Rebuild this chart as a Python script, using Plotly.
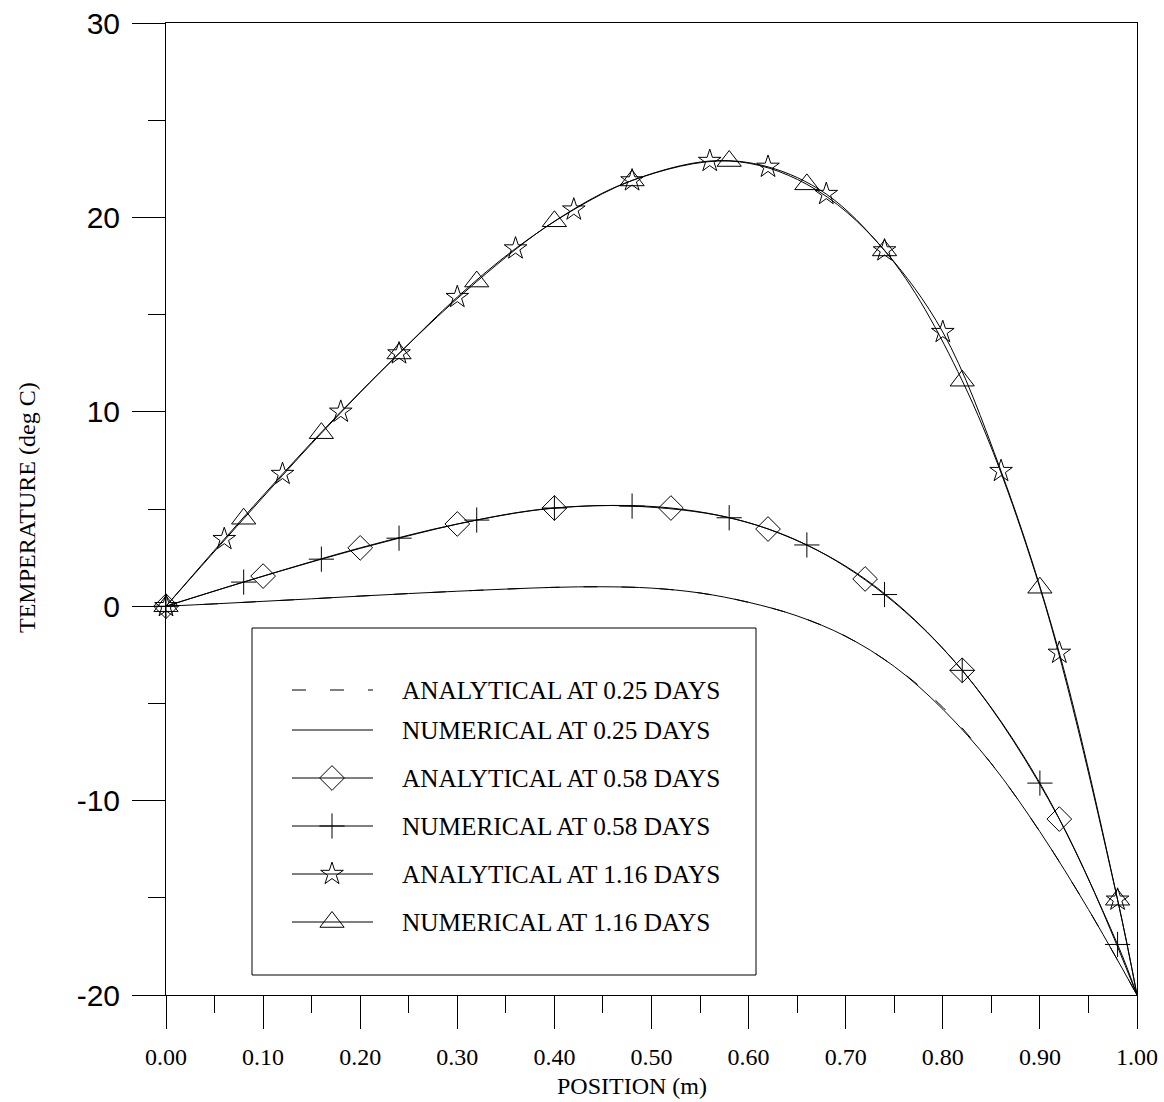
import plotly.graph_objects as go

# ---- temperature profiles along the bar (position in m, temperature in deg C) ----
# 0.25 days: analytical and numerical solutions (no symbols)
x_025 = [0.0, 0.05, 0.10, 0.15, 0.20, 0.25, 0.30, 0.35, 0.40, 0.45, 0.50,
         0.55, 0.60, 0.65, 0.70, 0.75, 0.80, 0.85, 0.90, 0.95, 1.00]
t_025_analytical = [0.0, 0.12, 0.25, 0.38, 0.52, 0.65, 0.77, 0.88, 0.97, 1.0, 0.93,
                    0.68, 0.2, -0.5, -1.55, -3.1, -5.2, -8.1, -11.6, -15.6, -20.0]
t_025_numerical = [0.0, 0.12, 0.25, 0.38, 0.52, 0.65, 0.77, 0.88, 0.97, 1.0, 0.93,
                   0.68, 0.2, -0.5, -1.55, -3.1, -5.3, -8.1, -11.6, -15.6, -20.0]

# 0.58 days
x_058_analytical = [0.0, 0.10, 0.20, 0.30, 0.40, 0.52, 0.62, 0.72, 0.82, 0.92, 1.00]
t_058_analytical = [0.0, 1.55, 3.0, 4.23, 5.05, 5.05, 3.97, 1.4, -3.3, -10.95, -20.0]
x_058_numerical = [0.0, 0.08, 0.16, 0.24, 0.32, 0.40, 0.48, 0.58, 0.66, 0.74,
                   0.82, 0.90, 0.98, 1.00]
t_058_numerical = [0.0, 1.24, 2.42, 3.5, 4.43, 5.05, 5.15, 4.55, 3.15, 0.6,
                   -3.3, -9.1, -17.4, -20.0]

# 1.16 days
x_116_analytical = [0.0, 0.06, 0.12, 0.18, 0.24, 0.30, 0.36, 0.42, 0.48, 0.56,
                    0.62, 0.68, 0.74, 0.80, 0.86, 0.92, 0.98, 1.00]
t_116_analytical = [0.0, 3.45, 6.8, 10.0, 13.0, 15.9, 18.4, 20.4, 21.9, 22.9,
                    22.6, 21.2, 18.3, 14.1, 6.95, -2.4, -15.1, -20.0]
x_116_numerical = [0.0, 0.08, 0.16, 0.24, 0.32, 0.40, 0.48, 0.58, 0.66, 0.74,
                   0.82, 0.90, 0.98, 1.00]
t_116_numerical = [0.0, 4.5, 8.9, 13.0, 16.7, 19.8, 21.9, 22.9, 21.7, 18.3,
                   11.6, 0.95, -15.1, -20.0]

legend_labels = ["ANALYTICAL AT 0.25 DAYS", "NUMERICAL AT 0.25 DAYS",
                 "ANALYTICAL AT 0.58 DAYS", "NUMERICAL AT 0.58 DAYS",
                 "ANALYTICAL AT 1.16 DAYS", "NUMERICAL AT 1.16 DAYS"]

x_tick_vals = [0.0, 0.1, 0.2, 0.3, 0.4, 0.5, 0.6, 0.7, 0.8, 0.9, 1.0]
x_tick_text = ["0.00", "0.10", "0.20", "0.30", "0.40", "0.50",
               "0.60", "0.70", "0.80", "0.90", "1.00"]
y_tick_vals = [-20, -10, 0, 10, 20, 30]
y_tick_text = ["-20", "-10", "0", "10", "20", "30"]

SERIF = "Liberation Serif"
SANS = "Liberation Sans"
INK = "black"

# figure geometry (pixels)
W, H = 1164, 1102
PL, PR, PT, PB = 166, 1137, 23, 995


def px_x(px):
    """Horizontal pixel position -> paper fraction."""
    return (px - PL) / (PR - PL)


def px_y(py):
    """Vertical pixel position (from top) -> paper fraction."""
    return (PB - py) / (PB - PT)


# line / symbol styles for each series
styles = [
    dict(dash="14px,24px", symbol=None, size=0),
    dict(dash="solid", symbol=None, size=0),
    dict(dash="solid", symbol="diamond-open", size=19),
    dict(dash="solid", symbol="cross-thin-open", size=18),
    dict(dash="solid", symbol="star-open", size=17),
    dict(dash="solid", symbol="triangle-up-open", size=21),
]
series = [
    (x_025, t_025_analytical),
    (x_025, t_025_numerical),
    (x_058_analytical, t_058_analytical),
    (x_058_numerical, t_058_numerical),
    (x_116_analytical, t_116_analytical),
    (x_116_numerical, t_116_numerical),
]

fig = go.Figure()

for (xs, ts), st, name in zip(series, styles, legend_labels):
    if st["symbol"] is None:
        fig.add_trace(go.Scatter(
            x=xs, y=ts, mode="lines", name=name, showlegend=False,
            line=dict(color=INK, width=1, dash=st["dash"], shape="spline"),
            cliponaxis=False,
        ))
    else:
        # symbols at every sampled point except the fixed end at x = 1.0
        opac = [1.0] * (len(xs) - 1) + [0.0]
        fig.add_trace(go.Scatter(
            x=xs, y=ts, mode="lines+markers", name=name, showlegend=False,
            line=dict(color=INK, width=1, dash=st["dash"], shape="spline"),
            marker=dict(symbol=st["symbol"], size=st["size"], color=INK,
                        opacity=opac, line=dict(color=INK, width=1)),
            cliponaxis=False,
        ))

# ---- legend box drawn on a pixel-unit overlay axis ----
legend_rows = [690, 730, 778, 826, 874, 922]
sample_x0, sample_x1, sample_mid, text_x = 292, 373, 332, 400

for row_y, st, label in zip(legend_rows, styles, legend_labels):
    fig.add_trace(go.Scatter(
        x=[sample_x0, sample_x1], y=[row_y, row_y], mode="lines",
        line=dict(color=INK, width=1, dash=st["dash"]),
        xaxis="x2", yaxis="y2", showlegend=False, hoverinfo="skip",
    ))
    if st["symbol"] is not None:
        fig.add_trace(go.Scatter(
            x=[sample_mid], y=[row_y], mode="markers",
            marker=dict(symbol=st["symbol"], size=st["size"], color=INK,
                        line=dict(color=INK, width=1)),
            xaxis="x2", yaxis="y2", showlegend=False, hoverinfo="skip",
        ))
    fig.add_annotation(
        x=text_x, y=row_y, xref="x2", yref="y2", text=label, showarrow=False,
        xanchor="left", yanchor="middle",
        font=dict(family=SERIF, size=25.3, color=INK),
    )

fig.add_shape(type="rect", xref="x2", yref="y2", x0=252, x1=756, y0=628, y1=975,
              line=dict(color=INK, width=1), fillcolor="rgba(0,0,0,0)")

# ---- axis titles ----
fig.add_annotation(
    x=px_x(632), y=px_y(1086), xref="paper", yref="paper", text="POSITION (m)",
    showarrow=False, xanchor="center", yanchor="middle",
    font=dict(family=SERIF, size=24, color=INK),
)
fig.add_annotation(
    x=px_x(27), y=px_y(508), xref="paper", yref="paper", text="TEMPERATURE (deg C)",
    showarrow=False, textangle=-90, xanchor="center", yanchor="middle",
    font=dict(family=SERIF, size=24, color=INK),
)

fig.update_layout(
    width=W, height=H,
    margin=dict(l=PL, r=W - PR, t=PT, b=H - PB, pad=0, autoexpand=False),
    paper_bgcolor="white", plot_bgcolor="white",
    showlegend=False,
    xaxis=dict(
        range=[0, 1], tickvals=x_tick_vals, ticktext=x_tick_text,
        ticks="outside", ticklen=33, tickwidth=1, tickcolor=INK,
        minor=dict(ticks="outside", ticklen=17, tickwidth=1, tickcolor=INK, dtick=0.05, tick0=0),
        showline=True, linecolor=INK, linewidth=1, mirror=True,
        showgrid=False, zeroline=False, automargin=False,
        tickfont=dict(family=SERIF, size=24, color=INK),
        ticklabelstandoff=7,
    ),
    yaxis=dict(
        range=[-20, 30], tickvals=y_tick_vals, ticktext=y_tick_text,
        ticks="outside", ticklen=33, tickwidth=1, tickcolor=INK,
        minor=dict(ticks="outside", ticklen=17, tickwidth=1, tickcolor=INK, dtick=5, tick0=0),
        showline=True, linecolor=INK, linewidth=1, mirror=True,
        showgrid=False, zeroline=False, automargin=False,
        tickfont=dict(family=SANS, size=30, color=INK),
        ticklabelstandoff=6,
    ),
    xaxis2=dict(range=[PL, PR], overlaying="x", anchor="y2", visible=False,
                showgrid=False, zeroline=False),
    yaxis2=dict(range=[PB, PT], overlaying="y", anchor="x2", visible=False,
                showgrid=False, zeroline=False),
)

fig.write_html("out.html")
